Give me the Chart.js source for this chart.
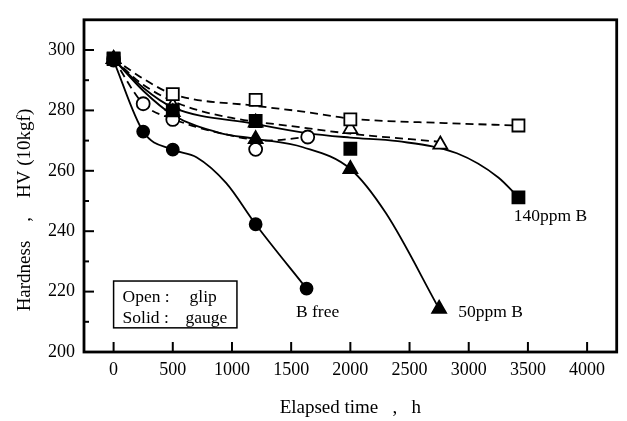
<!DOCTYPE html>
<html>
<head>
<meta charset="utf-8">
<script src="https://cdn.jsdelivr.net/npm/chart.js@4.4.1/dist/chart.umd.min.js"></script>
<style>
  html, body { margin: 0; padding: 0; background: #fff; }
  #wrap { width: 627px; height: 421px; }
</style>
</head>
<body>
<div id="wrap"><canvas id="c"></canvas></div>
<script>
// tick labels
const xTickValues = [0, 500, 1000, 1500, 2000, 2500, 3000, 3500, 4000];
const yTickValues = [200, 220, 240, 260, 280, 300];
const yMinorValues = [210, 230, 250, 270, 290];

// measured points (solid = gauge, open = glip)
const bFreeGaugeX = [0, 250, 500, 1200, 1630];
const bFreeGaugeY = [296.5, 273, 267, 242.3, 221];
const bFreeGlipX = [0, 250, 500, 1200, 1640];
const bFreeGlipY = [297, 282.2, 277, 267.1, 271.2];
const b50GaugeX = [0, 500, 1200, 2000, 2750];
const b50GaugeY = [297, 279.4, 270.5, 260.6, 214.3];
const b50GlipX = [0, 500, 1200, 2000, 2760];
const b50GlipY = [297, 281.5, 276, 273.8, 268.7];
const b140GaugeX = [0, 500, 1200, 2000, 3420];
const b140GaugeY = [297, 280, 276.5, 267.3, 251.2];
const b140GlipX = [0, 500, 1200, 2000, 3420];
const b140GlipY = [297.2, 285.4, 283.5, 277, 275];

// hand-drawn fitted curves
const bFreeGaugeLineX = [0, 250, 500, 700, 950, 1200, 1630];
const bFreeGaugeLineY = [296.5, 273, 267, 264.5, 256, 242.3, 221];
const bFreeGlipLineX = [0, 250, 500, 900, 1300, 1640];
const bFreeGlipLineY = [297, 282.2, 277.2, 272.5, 270, 271.2];
const b50GaugeLineX = [0, 250, 500, 900, 1200, 1600, 2000, 2300, 2750];
const b50GaugeLineY = [297, 286.5, 278.5, 272.5, 270.6, 267.8, 260.6, 246, 214.3];
const b50GlipLineX = [0, 250, 580, 1000, 1500, 2000, 2760];
const b50GlipLineY = [297, 288.5, 281.8, 277.5, 274.8, 272.3, 269.6];
const b140GaugeLineX = [0, 250, 500, 1200, 1630, 2000, 2400, 2900, 3250, 3420];
const b140GaugeLineY = [297, 287.5, 281, 275.5, 272.5, 271, 269.8, 265.8, 257.8, 251.2];
const b140GlipLineX = [0, 250, 500, 1200, 1600, 2000, 2800, 3420];
const b140GlipLineY = [297.2, 290.5, 285.4, 281.5, 279.6, 277.3, 275.8, 275];

const serif = 'Liberation Serif';
const yTitle = 'Hardness    ,    HV (10kgf)';

function pts(xs, ys) {
    return xs.map((x, i) => ({ x: x, y: ys[i] }));
}

function curve(xs, ys, dashed) {
    return {
        data: pts(xs, ys),
        showLine: true,
        pointRadius: 0,
        borderColor: '#000',
        borderWidth: 1.8,
        borderDash: dashed ? [8, 5] : [],
        cubicInterpolationMode: 'monotone',
        order: 2
    };
}

function marks(xs, ys, style, filled, r) {
    return {
        data: pts(xs, ys),
        showLine: false,
        pointStyle: style,
        pointRadius: r,
        pointBackgroundColor: filled ? '#000' : '#fff',
        pointBorderColor: '#000',
        pointBorderWidth: 1.8,
        order: 1
    };
}

// frame, inward ticks, labels and the little key box
const decor = {
    id: 'decor',
    afterDatasetsDraw(chart) {
        const { ctx, chartArea: a, scales: { x, y } } = chart;
        ctx.save();
        ctx.strokeStyle = '#000';
        ctx.lineWidth = 2;
        xTickValues.forEach(v => {
            const px = x.getPixelForValue(v);
            ctx.beginPath(); ctx.moveTo(px, a.bottom); ctx.lineTo(px, a.bottom - 10); ctx.stroke();
        });
        yTickValues.forEach(v => {
            const py = y.getPixelForValue(v);
            ctx.beginPath(); ctx.moveTo(a.left, py); ctx.lineTo(a.left + 10, py); ctx.stroke();
        });
        yMinorValues.forEach(v => {
            const py = y.getPixelForValue(v);
            ctx.beginPath(); ctx.moveTo(a.left, py); ctx.lineTo(a.left + 5, py); ctx.stroke();
        });
        ctx.lineWidth = 2.8;
        ctx.strokeRect(a.left, a.top, a.right - a.left, a.bottom - a.top);

        ctx.fillStyle = '#000';
        ctx.font = '17.5px "' + serif + '"';
        ctx.textAlign = 'center';
        ctx.textBaseline = 'middle';
        ctx.fillText('B free', x.getPixelForValue(1723), y.getPixelForValue(213.2));
        ctx.fillText('50ppm B', x.getPixelForValue(3185), y.getPixelForValue(213.2));
        ctx.fillText('140ppm B', x.getPixelForValue(3690), y.getPixelForValue(244.8));

        // key box
        const bx0 = x.getPixelForValue(0), bx1 = x.getPixelForValue(1042);
        const by0 = y.getPixelForValue(223.5), by1 = y.getPixelForValue(208);
        ctx.lineWidth = 1.5;
        ctx.strokeRect(bx0, by0, bx1 - bx0, by1 - by0);
        ctx.textAlign = 'left';
        ctx.fillText('Open :', bx0 + 9, by0 + 16);
        ctx.fillText('glip', bx0 + 76, by0 + 16);
        ctx.fillText('Solid :', bx0 + 9, by0 + 37);
        ctx.fillText('gauge', bx0 + 72, by0 + 37);

        // y axis title, sits a little below the middle of the axis
        ctx.font = '19px "' + serif + '"';
        ctx.textAlign = 'center';
        ctx.translate(25, y.getPixelForValue(247));
        ctx.rotate(-Math.PI / 2);
        ctx.fillText(yTitle, 0, 0);
        ctx.restore();
    }
};

new Chart(document.getElementById('c'), {
    type: 'scatter',
    data: {
        datasets: [
            marks(b50GaugeX, b50GaugeY, 'triangle', true, 8),
            marks(bFreeGaugeX, bFreeGaugeY, 'circle', true, 6),
            marks(b140GaugeX, b140GaugeY, 'rect', true, 8.5),
            marks(bFreeGlipX, bFreeGlipY, 'circle', false, 6.5),
            marks(b140GlipX, b140GlipY, 'rect', false, 8.5),
            marks(b50GlipX, b50GlipY, 'triangle', false, 8),
            curve(bFreeGaugeLineX, bFreeGaugeLineY, false),
            curve(b50GaugeLineX, b50GaugeLineY, false),
            curve(b140GaugeLineX, b140GaugeLineY, false),
            curve(bFreeGlipLineX, bFreeGlipLineY, true),
            curve(b50GlipLineX, b50GlipLineY, true),
            curve(b140GlipLineX, b140GlipLineY, true)
        ]
    },
    options: {
        responsive: true,
        maintainAspectRatio: false,
        animation: false,
        layout: { padding: { top: 12, right: 10, left: 0, bottom: 0 } },
        plugins: { legend: { display: false }, tooltip: { enabled: false } },
        scales: {
            x: {
                type: 'linear',
                min: -250,
                max: 4250,
                afterFit(s) { s.height = 69; },
                afterBuildTicks(s) { s.ticks = xTickValues.map(v => ({ value: v })); },
                grid: { display: false, drawTicks: false },
                border: { display: false },
                ticks: { padding: 7, color: '#000', maxRotation: 0, autoSkip: false,
                         callback: v => String(v), font: { family: serif, size: 18 } },
                title: { display: true, text: 'Elapsed time   ,   h', color: '#000',
                         padding: { bottom: 2 }, font: { family: serif, size: 19 } }
            },
            y: {
                type: 'linear',
                min: 200,
                max: 310,
                afterFit(s) { s.width = 84; },
                afterBuildTicks(s) { s.ticks = yTickValues.map(v => ({ value: v })); },
                grid: { display: false, drawTicks: false },
                border: { display: false },
                ticks: { padding: 9, color: '#000', autoSkip: false,
                         callback: v => String(v), font: { family: serif, size: 18 } }
            }
        }
    },
    plugins: [decor]
});
</script>
</body>
</html>
